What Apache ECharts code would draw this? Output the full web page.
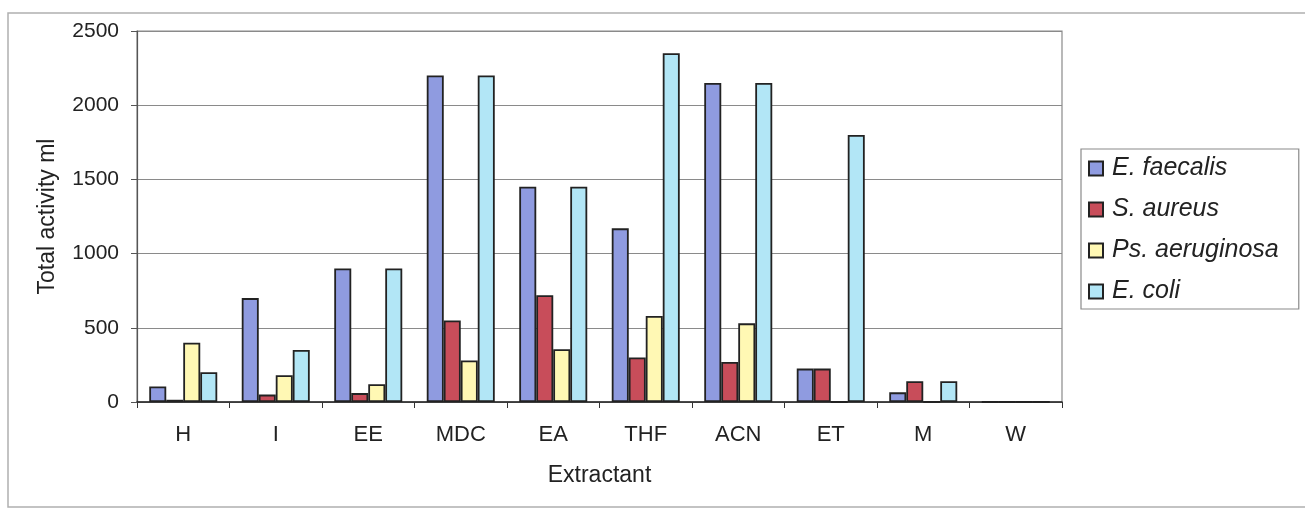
<!DOCTYPE html>
<html>
<head>
<meta charset="utf-8">
<script src="https://cdn.jsdelivr.net/npm/echarts@6/dist/echarts.min.js"></script>
<style>
html,body{margin:0;padding:0;background:#fff;}
#chart{width:1305px;height:510px;}
</style>
</head>
<body>
<div id="chart"></div>
<script>
const categories = ['H','I','EE','MDC','EA','THF','ACN','ET','M','W'];
const eFaecalis = [105, 700, 900, 2200, 1450, 1170, 2150, 225, 65, 0];
const sAureus = [15, 50, 60, 550, 720, 300, 270, 225, 140, 0];
const psAeruginosa = [400, 180, 120, 280, 355, 580, 530, 0, 0, 0];
const eColi = [200, 350, 900, 2200, 1450, 2350, 2150, 1800, 140, 0];
const seriesNames = ['E. faecalis', 'S. aureus', 'Ps. aeruginosa', 'E. coli'];
const seriesData = [eFaecalis, sAureus, psAeruginosa, eColi];
const colors = ['#8f9be0', '#c84d5a', '#fff8b4', '#b2e6f6'];

const FONT = "'Liberation Sans', Arial, sans-serif";
const chart = echarts.init(document.getElementById('chart'), null, {renderer: 'canvas'});

chart.setOption({
  animation: false,
  backgroundColor: '#fff',
  textStyle: {fontFamily: FONT, color: '#222'},
  graphic: [{
    type: 'rect',
    shape: {x: 8, y: 13, width: 1320, height: 494},
    style: {fill: 'none', stroke: '#b0b0b0', lineWidth: 1.5},
    z: -10
  }],
  grid: {
    left: 137, right: 243, top: 31, bottom: 108,
    show: true, borderColor: '#8a8a8a', borderWidth: 1.2
  },
  legend: {
    orient: 'vertical',
    left: 1081, top: 149,
    padding: [7, 20, 5, 7],
    itemGap: 16,
    itemWidth: 14, itemHeight: 14,
    borderColor: '#8a8a8a', borderWidth: 1.2,
    icon: 'rect',
    data: seriesNames,
    textStyle: {fontFamily: FONT, fontSize: 25, fontStyle: 'italic', color: '#222', lineHeight: 25, padding: [0,0,0,4]}
  },
  xAxis: {
    type: 'category',
    data: categories,
    boundaryGap: true,
    name: 'Extractant',
    nameLocation: 'middle',
    nameGap: 62,
    nameTextStyle: {fontFamily: FONT, fontSize: 23, color: '#222'},
    axisLine: {lineStyle: {color: '#222', width: 1.5}},
    axisTick: {show: true, length: 6, lineStyle: {color: '#333'}},
    axisLabel: {fontFamily: FONT, fontSize: 22, color: '#222', margin: 22}
  },
  yAxis: {
    type: 'value',
    min: 0, max: 2500, interval: 500,
    name: 'Total activity ml',
    nameLocation: 'middle',
    nameGap: 78,
    nameTextStyle: {fontFamily: FONT, fontSize: 23, color: '#222'},
    axisLine: {show: true, lineStyle: {color: '#555', width: 1.2}},
    axisTick: {show: true, length: 6, lineStyle: {color: '#555'}},
    axisLabel: {fontFamily: FONT, fontSize: 21, color: '#222', margin: 18, formatter: v => String(v)},
    splitLine: {show: true, lineStyle: {color: '#8a8a8a', width: 1.2}}
  },
  series: seriesNames.map((name, i) => ({
    name: name,
    type: 'bar',
    data: seriesData[i],
    barWidth: 17,
    barGap: '0%',
    itemStyle: {color: colors[i], borderColor: '#222', borderWidth: 1.8}
  }))
});
</script>
</body>
</html>
